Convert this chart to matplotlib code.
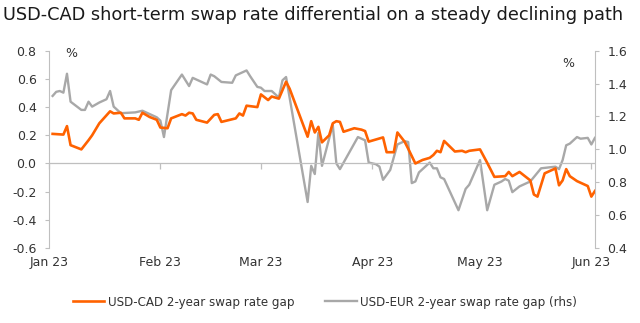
import matplotlib
matplotlib.use('Agg')

import matplotlib.pyplot as plt
import pandas as pd

title = "USD-CAD short-term swap rate differential on a steady declining path"

# USD-CAD 2y swap spread (lhs, %)
cad_dates = ["2023-01-02", "2023-01-05", "2023-01-06", "2023-01-07", "2023-01-10", "2023-01-12",
             "2023-01-13", "2023-01-15", "2023-01-18", "2023-01-19", "2023-01-21", "2023-01-22",
             "2023-01-25", "2023-01-26", "2023-01-27", "2023-01-29", "2023-01-31", "2023-02-01",
             "2023-02-03", "2023-02-04", "2023-02-07", "2023-02-08", "2023-02-09", "2023-02-10",
             "2023-02-11", "2023-02-14", "2023-02-16", "2023-02-17", "2023-02-18", "2023-02-22",
             "2023-02-23", "2023-02-24", "2023-02-25", "2023-02-28", "2023-03-01", "2023-03-03",
             "2023-03-04", "2023-03-06", "2023-03-08", "2023-03-09", "2023-03-14", "2023-03-15",
             "2023-03-16", "2023-03-17", "2023-03-18", "2023-03-20", "2023-03-21", "2023-03-22",
             "2023-03-23", "2023-03-24", "2023-03-27", "2023-03-29", "2023-03-30", "2023-03-31",
             "2023-04-04", "2023-04-05", "2023-04-07", "2023-04-08", "2023-04-10", "2023-04-11",
             "2023-04-13", "2023-04-15", "2023-04-17", "2023-04-18", "2023-04-19", "2023-04-20",
             "2023-04-21", "2023-04-24", "2023-04-26", "2023-04-27", "2023-04-28", "2023-05-01",
             "2023-05-03", "2023-05-05", "2023-05-08", "2023-05-09", "2023-05-10", "2023-05-12",
             "2023-05-15", "2023-05-16", "2023-05-17", "2023-05-19", "2023-05-22", "2023-05-23",
             "2023-05-24", "2023-05-25", "2023-05-26", "2023-05-28", "2023-05-31", "2023-06-01",
             "2023-06-02"]
cad_gap = [0.21, 0.205, 0.265, 0.13, 0.10, 0.165,
           0.20, 0.285, 0.37, 0.355, 0.36, 0.32,
           0.32, 0.31, 0.36, 0.33, 0.31, 0.255,
           0.25, 0.32, 0.35, 0.34, 0.36, 0.355,
           0.31, 0.29, 0.345, 0.35, 0.295, 0.32,
           0.355, 0.34, 0.41, 0.40, 0.49, 0.45,
           0.475, 0.46, 0.58, 0.53, 0.19, 0.30,
           0.22, 0.26, 0.15, 0.20, 0.285, 0.30,
           0.295, 0.225, 0.25, 0.24, 0.23, 0.155,
           0.185, 0.08, 0.08, 0.22, 0.155, 0.105,
           0.00, 0.025, 0.04, 0.06, 0.09, 0.08,
           0.16, 0.085, 0.09, 0.08, 0.09, 0.10,
           0.005, -0.095, -0.09, -0.06, -0.09, -0.06,
           -0.12, -0.22, -0.235, -0.07, -0.035, -0.155,
           -0.12, -0.04, -0.09, -0.125, -0.16, -0.235,
           -0.195]

# USD-EUR 2y swap spread (rhs, %)
eur_dates = ["2023-01-02", "2023-01-03", "2023-01-04", "2023-01-05", "2023-01-06", "2023-01-07",
             "2023-01-10", "2023-01-11", "2023-01-12", "2023-01-13", "2023-01-15", "2023-01-17",
             "2023-01-18", "2023-01-19", "2023-01-21", "2023-01-25", "2023-01-27", "2023-01-31",
             "2023-02-01", "2023-02-02", "2023-02-04", "2023-02-07", "2023-02-09", "2023-02-10",
             "2023-02-14", "2023-02-15", "2023-02-16", "2023-02-18", "2023-02-21", "2023-02-22",
             "2023-02-23", "2023-02-25", "2023-02-26", "2023-02-28", "2023-03-01", "2023-03-02",
             "2023-03-04", "2023-03-06", "2023-03-07", "2023-03-08", "2023-03-14", "2023-03-15",
             "2023-03-16", "2023-03-17", "2023-03-18", "2023-03-21", "2023-03-22", "2023-03-23",
             "2023-03-28", "2023-03-30", "2023-03-31", "2023-04-02", "2023-04-03", "2023-04-04",
             "2023-04-06", "2023-04-08", "2023-04-10", "2023-04-11", "2023-04-12", "2023-04-13",
             "2023-04-14", "2023-04-17", "2023-04-18", "2023-04-19", "2023-04-20", "2023-04-21",
             "2023-04-25", "2023-04-27", "2023-04-28", "2023-05-01", "2023-05-03", "2023-05-05",
             "2023-05-07", "2023-05-08", "2023-05-09", "2023-05-10", "2023-05-12", "2023-05-15",
             "2023-05-18", "2023-05-22", "2023-05-23", "2023-05-24", "2023-05-25", "2023-05-26",
             "2023-05-28", "2023-05-29", "2023-05-31", "2023-06-01", "2023-06-02"]
eur_gap = [1.325, 1.35, 1.355, 1.345, 1.46, 1.29,
           1.24, 1.24, 1.29, 1.26, 1.285, 1.305,
           1.355, 1.26, 1.22, 1.225, 1.235, 1.195,
           1.175, 1.075, 1.36, 1.455, 1.385, 1.435,
           1.395, 1.455, 1.445, 1.41, 1.405, 1.45,
           1.46, 1.48, 1.445, 1.38, 1.375, 1.355,
           1.355, 1.315, 1.42, 1.44, 0.68, 0.90,
           0.85, 1.10, 0.90, 1.15, 0.915, 0.88,
           1.075, 1.055, 0.92, 0.91, 0.895, 0.815,
           0.875, 1.03, 1.05, 1.045, 0.795, 0.805,
           0.86, 0.92, 0.885, 0.885, 0.83, 0.82,
           0.63, 0.76, 0.785, 0.935, 0.63, 0.785,
           0.805, 0.82, 0.81, 0.74, 0.775, 0.805,
           0.885, 0.895, 0.88, 0.935, 1.025, 1.035,
           1.075, 1.065, 1.07, 1.03, 1.07]

month_ticks = ["2023-01-01", "2023-02-01", "2023-03-01", "2023-04-01", "2023-05-01", "2023-06-01"]
month_labels = ["Jan 23", "Feb 23", "Mar 23", "Apr 23", "May 23", "Jun 23"]

ORANGE = "#FF6200"
GREY = "#A8A8A8"
AXIS = "#BFBFBF"
TXT = "#333333"

plt.rcParams['font.family'] = ['DejaVu Sans']

fig = plt.figure(figsize=(6.4, 3.23), dpi=100)
ax = fig.add_axes([0.0766, 0.232, 0.853, 0.611])
ax2 = ax.twinx()

cad_x = pd.to_datetime(cad_dates)
eur_x = pd.to_datetime(eur_dates)

l2, = ax2.plot(eur_x, eur_gap, color=GREY, lw=1.7, label="USD-EUR 2-year swap rate gap (rhs)")
l1, = ax.plot(cad_x, cad_gap, color=ORANGE, lw=1.9, label="USD-CAD 2-year swap rate gap")
ax.set_zorder(ax2.get_zorder() + 1)
ax.patch.set_visible(False)

ax.set_xlim(pd.Timestamp("2023-01-02"), pd.Timestamp("2023-06-02"))
ax.set_ylim(-0.6, 0.8)
ax2.set_ylim(0.4, 1.6)
ax.set_yticks([-0.6, -0.4, -0.2, 0.0, 0.2, 0.4, 0.6, 0.8])
ax2.set_yticks([0.4, 0.6, 0.8, 1.0, 1.2, 1.4, 1.6])
ax.yaxis.set_major_formatter(plt.FormatStrFormatter('%.1f'))
ax2.yaxis.set_major_formatter(plt.FormatStrFormatter('%.1f'))

# zero line with month ticks hanging off it, labels at the bottom
ax.axhline(0, color=AXIS, lw=0.9, zorder=0)
xt = pd.to_datetime(month_ticks)
ax.set_xticks(xt)
ax.set_xticklabels(month_labels)
ax.tick_params(axis='x', length=0, pad=6, labelsize=9, labelcolor=TXT)
zero_ax = ax.secondary_xaxis(0.6 / 1.4)
zero_ax.set_xticks(xt)
zero_ax.set_xticklabels([])
zero_ax.tick_params(axis='x', length=4, color=AXIS, width=0.9)
zero_ax.spines['bottom'].set_visible(False)

for a in (ax, ax2):
    for s in ('top', 'bottom', 'left', 'right'):
        a.spines[s].set_visible(False)
ax.spines['left'].set_visible(True)
ax.spines['left'].set_color(AXIS)
ax2.spines['right'].set_visible(True)
ax2.spines['right'].set_color(AXIS)

ax.tick_params(axis='y', length=3, color=AXIS, labelsize=9, labelcolor=TXT, pad=6)
ax2.tick_params(axis='y', length=3, color=AXIS, labelsize=9, labelcolor=TXT, pad=6)

ax.text(0.03, 0.985, "%", transform=ax.transAxes, fontsize=9, color=TXT, va='center')
ax2.text(0.962, 0.935, "%", transform=ax2.transAxes, fontsize=9, color=TXT, va='center', ha='right')

fig.text(0.005, 0.955, title, fontsize=12.8, color="#1a1a1a", va='center', ha='left')

fig.legend(handles=[l1, l2], loc='center', bbox_to_anchor=(0.508, 0.065), ncol=2, frameon=False,
           fontsize=8.6, handlelength=2.6, columnspacing=2.6, handletextpad=0.3,
           labelcolor=TXT)

fig.savefig("out.png", dpi=100)
